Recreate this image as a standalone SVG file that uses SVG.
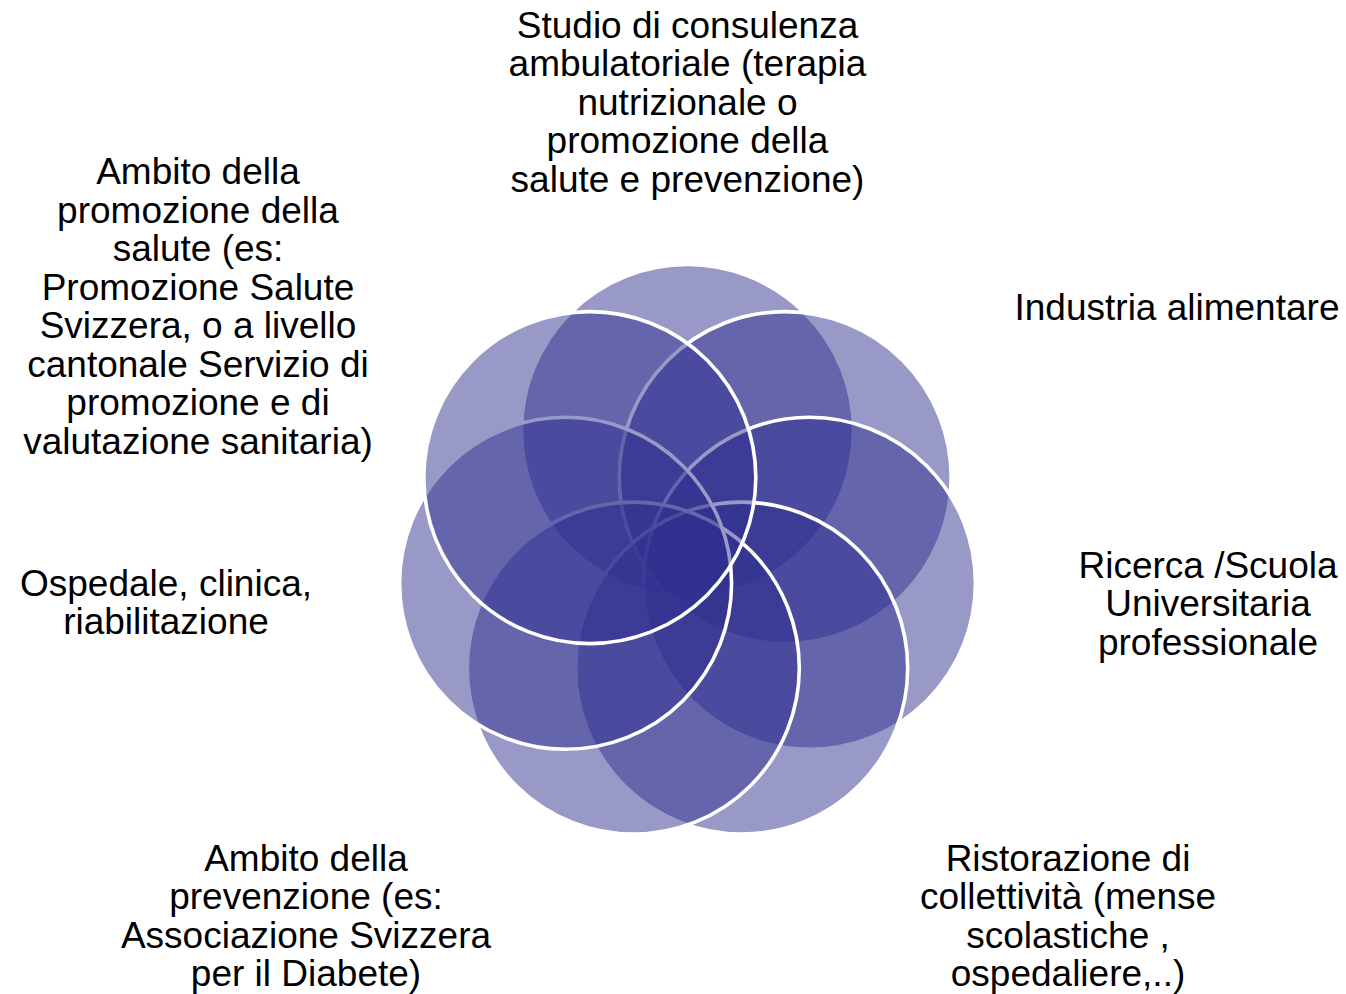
<svg xmlns="http://www.w3.org/2000/svg" width="1346" height="994" viewBox="0 0 1346 994">
<style>
.c{fill:#2e2e8e;fill-opacity:0.49;stroke:#fff;stroke-width:3.6}
.t{font-family:"Liberation Sans",Arial,sans-serif;font-size:37px;fill:#000;text-anchor:middle}
</style>
<rect width="1346" height="994" fill="#fff"/>
<g id="connectors"></g>
<g id="n1"><circle class="c" cx="687.5" cy="430.5" r="166"/>
<text class="t" x="687.5" y="38"><tspan x="687.5">Studio di consulenza</tspan><tspan x="687.5" dy="38.4">ambulatoriale (terapia</tspan><tspan x="687.5" dy="38.4">nutrizionale o</tspan><tspan x="687.5" dy="38.4">promozione della</tspan><tspan x="687.5" dy="38.4">salute e prevenzione)</tspan></text></g>
<g id="n2"><circle class="c" cx="785.2" cy="477.6" r="166"/>
<text class="t" x="1177" y="320">Industria alimentare</text></g>
<g id="n3"><circle class="c" cx="809.4" cy="583.3" r="166"/>
<text class="t" y="578"><tspan x="1208">Ricerca /Scuola</tspan><tspan x="1208" dy="38.4">Universitaria</tspan><tspan x="1208" dy="38.4">professionale</tspan></text></g>
<g id="n4"><circle class="c" cx="741.7" cy="668.1" r="166"/>
<text class="t" y="871"><tspan x="1068">Ristorazione di</tspan><tspan x="1068" dy="38.4">collettività (mense</tspan><tspan x="1068" dy="38.4">scolastiche ,</tspan><tspan x="1068" dy="38.4">ospedaliere,..)</tspan></text></g>
<g id="n5"><circle class="c" cx="633.3" cy="668.1" r="166"/>
<text class="t" y="871"><tspan x="306">Ambito della</tspan><tspan x="306" dy="38.4">prevenzione (es:</tspan><tspan x="306" dy="38.4">Associazione Svizzera</tspan><tspan x="306" dy="38.4">per il Diabete)</tspan></text></g>
<g id="n6"><circle class="c" cx="565.6" cy="583.3" r="166"/>
<text class="t" y="596"><tspan x="166">Ospedale, clinica,</tspan><tspan x="166" dy="38.4">riabilitazione</tspan></text></g>
<g id="n7"><circle class="c" cx="589.8" cy="477.6" r="166"/>
<text class="t" y="184"><tspan x="198">Ambito della</tspan><tspan x="198" dy="38.5">promozione della</tspan><tspan x="198" dy="38.5">salute (es:</tspan><tspan x="198" dy="38.5">Promozione Salute</tspan><tspan x="198" dy="38.5">Svizzera, o a livello</tspan><tspan x="198" dy="38.5">cantonale Servizio di</tspan><tspan x="198" dy="38.5">promozione e di</tspan><tspan x="198" dy="38.5">valutazione sanitaria)</tspan></text></g>
</svg>
